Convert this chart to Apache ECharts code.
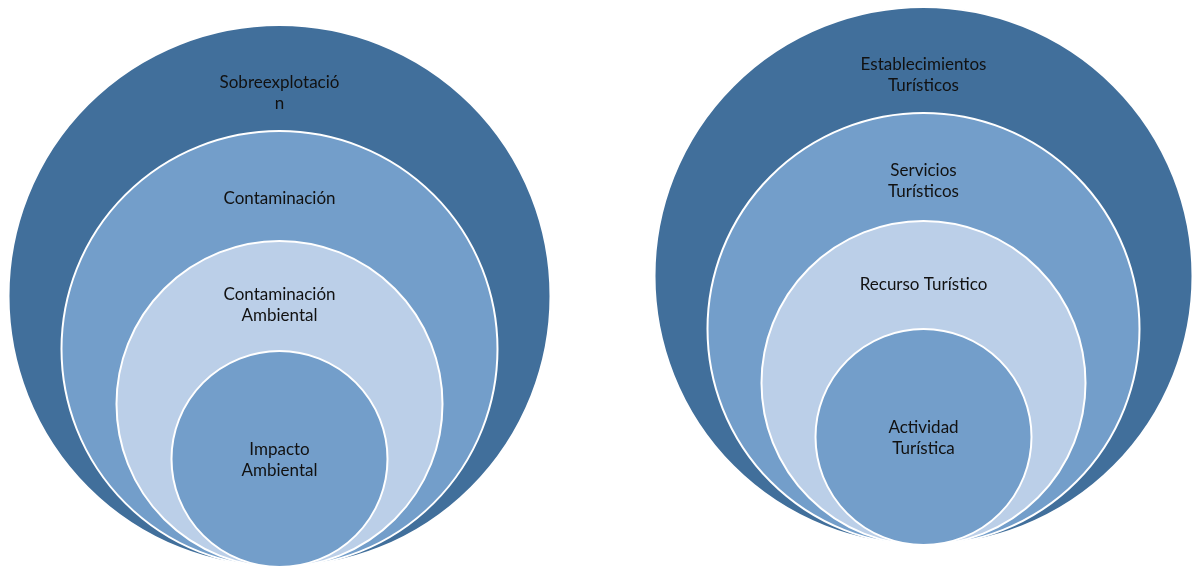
<!DOCTYPE html>
<html>
<head>
<meta charset="utf-8">
<script src="https://cdn.jsdelivr.net/npm/echarts@6/dist/echarts.min.js"></script>
<style>
html,body{margin:0;padding:0;background:#fff;}
#chart{width:1195px;height:567px;}
</style>
</head>
<body>
<div id="chart"></div>
<script>
// Data: labels from outermost to innermost circle, and relative radii
const labelsLeft = ['Sobreexplotació\nn', 'Contaminación', 'Contaminación\nAmbiental', 'Impacto\nAmbiental'];
const radiiLeft = [271, 218, 163, 108];
const labelsRight = ['Establecimientos\nTurísticos', 'Servicios\nTurísticos', 'Recurso Turístico', 'Actividad\nTurística'];
const radiiRight = [269, 216, 162, 108];

// Layout (in axis units)
const leftDiagram = { cx: 279.5, bottom: 567 };
const rightDiagram = { cx: 923.5, bottom: 545 };
const ringColors = ['#416F9B', '#739ECA', '#BBCFE8', '#739ECA'];
const labelOffsets = [68, 68, 64]; // label distance below ring top (pixels)

function buildData(labels, radii, d, diagramIdx) {
  return radii.map((r, i) => ({ value: [d.cx, d.bottom, r, i, diagramIdx], name: labels[i] }));
}
const allLabels = [labelsLeft, labelsRight];
const data = buildData(labelsLeft, radiiLeft, leftDiagram, 0).concat(buildData(labelsRight, radiiRight, rightDiagram, 1));

const chart = echarts.init(document.getElementById('chart'), null, { renderer: 'canvas' });
chart.setOption({
  animation: false,
  backgroundColor: '#ffffff',
  grid: { left: 0, right: 0, top: 0, bottom: 0 },
  xAxis: { type: 'value', min: 0, max: 1195, show: false },
  yAxis: { type: 'value', min: 0, max: 567, inverse: true, show: false },
  series: [{
    type: 'custom',
    coordinateSystem: 'cartesian2d',
    clip: false,
    data: data,
    renderItem: function (params, api) {
      const cx = api.value(0), bottom = api.value(1), r = api.value(2);
      const level = api.value(3), di = api.value(4);
      const c = api.coord([cx, bottom - r]);
      const rp = Math.abs(api.size([r, r])[1]);
      const top = c[1] - rp;
      const ty = level === 3 ? c[1] + 1 : top + labelOffsets[level];
      return {
        type: 'group',
        children: [{
          type: 'circle',
          shape: { cx: c[0], cy: c[1], r: rp },
          style: { fill: ringColors[level], stroke: '#ffffff', lineWidth: 2 }
        }, {
          type: 'text',
          style: {
            text: allLabels[di][level],
            x: c[0], y: ty,
            align: 'center', verticalAlign: 'middle',
            fontFamily: 'Lato', fontSize: 17, lineHeight: 21,
            fill: '#111111'
          }
        }]
      };
    }
  }]
});
</script>
</body>
</html>
